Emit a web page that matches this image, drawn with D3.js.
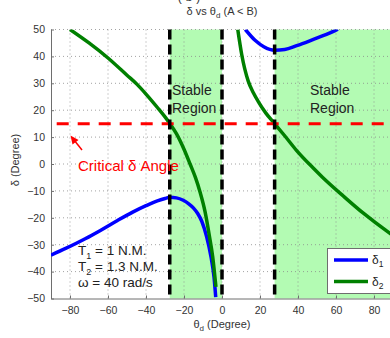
<!DOCTYPE html>
<html>
<head>
<meta charset="utf-8">
<script src="https://cdn.jsdelivr.net/npm/d3@7"></script>
<style>
  body { margin: 0; background: #fff; }
  svg { display: block; font-family: "Liberation Sans", Arial, sans-serif; }
</style>
</head>
<body>
<div id="chart"></div>
<script>
// canvas and plot box (right edge runs past the window, like the original)
const W = 390, H = 338;
const PLOT = { left: 51, right: 393, top: 29.5, bottom: 298.5 };

// axis ticks
const X_TICKS = [-80, -60, -40, -20, 0, 20, 40, 60, 80];
const Y_TICKS = [-50, -40, -30, -20, -10, 0, 10, 20, 30, 40, 50];

// delta_1 (blue), left branch: [theta_d, delta]
const delta1Left = [
  [-90, -33.9], [-82, -31.3], [-72, -27.8], [-64, -24.7], [-55, -21],
  [-47, -17.9], [-40, -15.5], [-34, -13.7], [-30, -12.8], [-27.4, -12.4],
  [-24, -12.6], [-20.4, -13.5], [-17.5, -14.8], [-15.1, -16.3], [-12.8, -18.4],
  [-10.7, -21.2], [-8.1, -27], [-5.8, -34.5], [-4.2, -42], [-3.3, -49.5]
];
// delta_1 (blue), right branch
const delta1Right = [
  [12.3, 50], [17.4, 46], [22, 43.6], [27.7, 42.3], [33, 42.6],
  [39.3, 44], [49.8, 46.8], [55, 48.2], [59.5, 49.6], [61, 50.1]
];
// delta_2 (green), left branch
const delta2Left = [
  [-80, 50], [-70, 45], [-60, 39.4], [-50, 33], [-44.7, 29.6], [-40, 26],
  [-34, 21], [-30, 17.5], [-27.4, 15], [-24, 11.3], [-20, 5.5], [-16.8, 0],
  [-14, -5], [-11.6, -10.3], [-8.9, -17.8], [-6.7, -26.5], [-4.9, -34.5], [-3.2, -45.7]
];
// delta_2 (green), right branch
const delta2Right = [
  [8.3, 50], [10.4, 40.6], [13.8, 30.8], [16.5, 26.5], [19.1, 23.2],
  [23, 19], [27.7, 15], [33, 10.5], [39.3, 5], [48, -1.5], [53, -5],
  [64, -12], [74.4, -18.3], [88.4, -25.8], [90, -26.6]
];

// stability boundaries and critical angle
const BOUNDARIES = [-27.5, 0, 27.7];
const STABLE_BANDS = [[-27.5, 0], [27.7, 90]];
const CRITICAL_DELTA = 15;
const CRITICAL_START = -87;

const NOTE_LINES = ["T|1| = 1 N.M.", "T|2| = 1.3 N.M.", "ω = 40 rad/s"];

const svg = d3.select("#chart").append("svg")
  .attr("width", W).attr("height", H);

const x = d3.scaleLinear().domain([-90, 90]).range([PLOT.left, PLOT.right]);
const y = d3.scaleLinear().domain([-50, 50]).range([PLOT.bottom, PLOT.top]);

svg.append("defs").append("clipPath").attr("id", "plot-clip")
  .append("rect")
  .attr("x", PLOT.left).attr("y", PLOT.top)
  .attr("width", PLOT.right - PLOT.left).attr("height", PLOT.bottom - PLOT.top);

// green stable regions
svg.selectAll(".band")
  .data(STABLE_BANDS)
  .enter().append("rect")
  .attr("class", "band")
  .attr("x", d => x(d[0]))
  .attr("y", y(50))
  .attr("width", d => x(d[1]) - x(d[0]))
  .attr("height", y(-50) - y(50))
  .attr("fill", "#b3fbb3");

// dotted grid
const grid = svg.append("g").attr("stroke", "#8a8a8a").attr("stroke-width", 0.8)
  .attr("stroke-dasharray", "1,3");
grid.selectAll(".gx").data(X_TICKS).enter().append("line")
  .attr("x1", d => x(d)).attr("x2", d => x(d))
  .attr("y1", y(-50)).attr("y2", y(50));
grid.selectAll(".gy").data(Y_TICKS.filter(d => d > -50)).enter().append("line")
  .attr("x1", x(-90)).attr("x2", x(90))
  .attr("y1", d => y(d)).attr("y2", d => y(d));

// axes (ticks inside, like matlab)
const xAxis = svg.append("g")
  .attr("transform", `translate(0,${PLOT.bottom})`)
  .call(d3.axisBottom(x).tickValues(X_TICKS).tickSizeInner(-3).tickSizeOuter(0).tickPadding(8));
const yAxis = svg.append("g")
  .attr("transform", `translate(${PLOT.left},0)`)
  .call(d3.axisLeft(y).tickValues(Y_TICKS).tickSizeInner(-3).tickSizeOuter(0).tickPadding(6));
[xAxis, yAxis].forEach(g => {
  g.select(".domain").attr("stroke", "#6e6e6e");
  g.selectAll(".tick line").attr("stroke", "#6e6e6e");
  g.selectAll(".tick text").attr("fill", "#333").attr("font-size", "10.5px")
    .attr("font-family", "Liberation Sans, Arial, sans-serif");
});

// curves
const line = d3.line().x(d => x(d[0])).y(d => y(d[1])).curve(d3.curveMonotoneX);
const curves = svg.append("g").attr("clip-path", "url(#plot-clip)");
[[delta1Left, "#0000ff"], [delta1Right, "#0000ff"], [delta2Left, "#008000"], [delta2Right, "#008000"]]
  .forEach(([data, color]) => {
    curves.append("path").datum(data)
      .attr("d", line)
      .attr("fill", "none")
      .attr("stroke", color)
      .attr("stroke-width", 3.5)
      .attr("stroke-linecap", "butt");
  });

// critical angle line
svg.append("line")
  .attr("x1", x(CRITICAL_START)).attr("x2", x(90))
  .attr("y1", y(CRITICAL_DELTA)).attr("y2", y(CRITICAL_DELTA))
  .attr("stroke", "#ff0000").attr("stroke-width", 3)
  .attr("stroke-dasharray", "12,9");

// black boundaries
svg.selectAll(".boundary")
  .data(BOUNDARIES)
  .enter().append("line")
  .attr("x1", d => x(d)).attr("x2", d => x(d))
  .attr("y1", y(50)).attr("y2", y(-50))
  .attr("stroke", "#000").attr("stroke-width", 3.5)
  .attr("stroke-dasharray", "10,5");

// labels inside plot
function stableLabel(xPos) {
  const t = svg.append("text").attr("font-size", "14px").attr("fill", "#222");
  t.append("tspan").attr("x", xPos).attr("y", 95).text("Stable");
  t.append("tspan").attr("x", xPos).attr("y", 113).text("Region");
}
stableLabel(172);
stableLabel(310);

svg.append("text")
  .attr("x", 78).attr("y", 171)
  .attr("font-size", "15px").attr("fill", "#ff0000")
  .text("Critical δ Angle");

// red arrow
svg.append("line")
  .attr("x1", 82).attr("y1", 150).attr("x2", 74).attr("y2", 140)
  .attr("stroke", "#ff0000").attr("stroke-width", 1.5);
svg.append("path")
  .attr("d", "M70.5,135.5 L78.5,140 L72.5,144.5 Z")
  .attr("fill", "#ff0000");

// parameter note with subscripts
NOTE_LINES.forEach((s, i) => {
  const parts = s.split("|");
  const t = svg.append("text").attr("x", 78).attr("y", 255 + i * 16)
    .attr("font-size", "13.5px").attr("fill", "#222");
  t.append("tspan").text(parts[0]);
  if (parts.length > 1) {
    t.append("tspan").attr("font-size", "9px").attr("dy", 3.5).text(parts[1]);
    t.append("tspan").attr("dy", -3.5).text(parts[2]);
  }
});

// legend
const legend = svg.append("g");
legend.append("rect")
  .attr("x", 327.5).attr("y", 248.5).attr("width", 70).attr("height", 45)
  .attr("fill", "#fff").attr("stroke", "#6e6e6e").attr("stroke-width", 1);
[["1", "#0000ff", 260], ["2", "#008000", 281.5]].forEach(([sub, color, ly]) => {
  legend.append("line").attr("x1", 334).attr("x2", 368).attr("y1", ly).attr("y2", ly)
    .attr("stroke", color).attr("stroke-width", 3.5);
  const t = legend.append("text").attr("x", 372).attr("y", ly + 4)
    .attr("font-size", "12px").attr("fill", "#222");
  t.append("tspan").text("δ");
  t.append("tspan").attr("font-size", "8.5px").attr("dy", 3).text(sub);
});

// title (the panel tag above it is cut off by the top edge, as in the original)
svg.append("text").attr("x", 191).attr("y", 1).attr("text-anchor", "middle")
  .attr("font-size", "12px").attr("fill", "#333").attr("letter-spacing", "4px").text("(b)");
const title = svg.append("text").attr("x", 222).attr("y", 15).attr("text-anchor", "middle")
  .attr("font-size", "11px").attr("fill", "#333");
title.append("tspan").text("δ vs θ");
title.append("tspan").attr("font-size", "8px").attr("dy", 3).text("d");
title.append("tspan").attr("dy", -3).text(" (A < B)");

const xl = svg.append("text").attr("x", 222).attr("y", 328).attr("text-anchor", "middle")
  .attr("font-size", "11px").attr("fill", "#333");
xl.append("tspan").text("θ");
xl.append("tspan").attr("font-size", "8px").attr("dy", 3).text("d");
xl.append("tspan").attr("dy", -3).text(" (Degree)");

svg.append("text")
  .attr("transform", `translate(19,160) rotate(-90)`)
  .attr("text-anchor", "middle")
  .attr("font-size", "11px").attr("fill", "#333")
  .text("δ (Degree)");
</script>
</body>
</html>
